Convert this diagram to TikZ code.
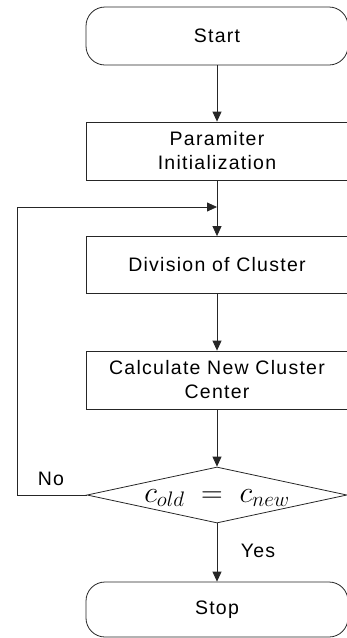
\RequirePackage{fix-cm}
\documentclass[tikz,border=0pt]{standalone}
\usepackage{fontspec}
\setmainfont[LetterSpace=6.5]{Liberation Sans}
\usetikzlibrary{arrows.meta,shapes.geometric}
\begin{document}
\begin{tikzpicture}[x=1pt,y=-1pt,
  base/.style={draw=black!85,line width=0.8pt,minimum width=262pt,inner sep=0pt,align=center,
    font=\fontsize{19.5}{24}\selectfont},
  term/.style={base,rectangle,rounded corners=19pt},
  proc/.style={base,rectangle},
  arr/.style={draw=black!85,line width=0.8pt,-{Triangle[length=10pt,width=9pt]}},
  lbl/.style={font=\fontsize{19.5}{24}\selectfont,inner sep=0pt}]
\useasboundingbox (0,0) rectangle (346,638);
\node[term,minimum height=58pt] (start) at (217,36) {Start};
\node[proc,minimum height=58pt] (param) at (217,151) {Paramiter\\Initialization};
\node[proc,minimum height=57pt] (div) at (217,265) {Division of Cluster};
\node[proc,minimum height=58pt] (calc) at (217,380) {Calculate New Cluster\\Center};
\node[diamond,draw=black!85,line width=0.8pt,minimum width=260pt,minimum height=56pt,inner sep=0pt] (dec) at (217,495) {};
\node[inner sep=0pt,anchor=base] (dectext) at (217,502) {\fontsize{30}{36}\selectfont$c_{old}\;=\;c_{new}$};
\node[term,minimum height=55pt] (stop) at (217,609.5) {Stop};
\coordinate (join) at (217,207);
\coordinate (lt) at (17,207);
\coordinate (lb) at (17,495);
\draw[arr] (start) -- (param);
\draw[arr] (param) -- (div);
\draw[arr] (div) -- (calc);
\draw[arr] (calc) -- (dec);
\draw[arr] (dec) -- (stop);
\draw[arr] (dec.west) -- (lb) -- (lt) -- (join);
\node[lbl] (no) at (51,479) {No};
\node[lbl] (yes) at (258,551) {Yes};
\end{tikzpicture}
\end{document}
